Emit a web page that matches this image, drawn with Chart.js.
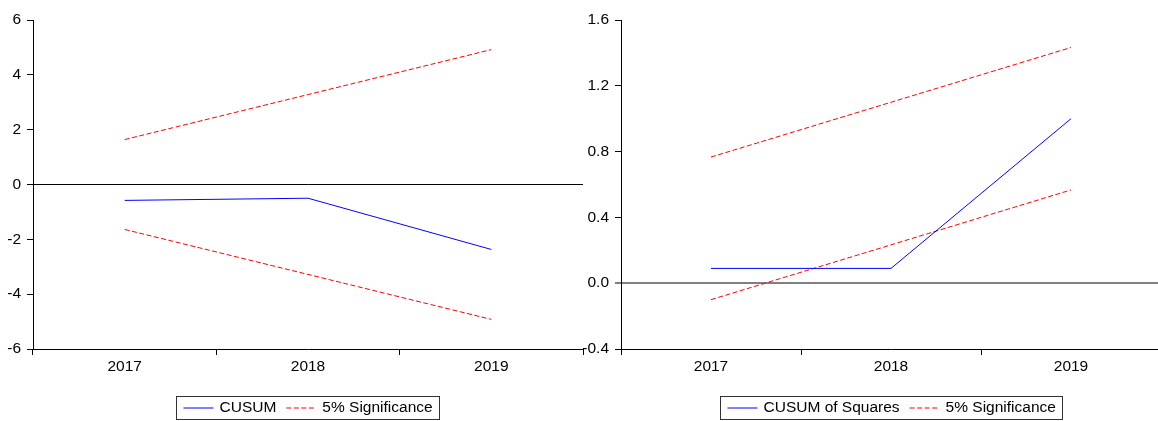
<!DOCTYPE html>
<html>
<head>
<meta charset="utf-8">
<title>CUSUM tests</title>
<script src="https://cdn.jsdelivr.net/npm/chart.js@4.4.0/dist/chart.umd.min.js"></script>
<style>
  html, body { margin: 0; padding: 0; background: #fff; overflow: hidden; }
  #wrap { position: relative; width: 1158px; height: 421px; }
  canvas { position: absolute; top: 0; }
  #cusumChart { left: 0; }
  #cusumSqChart { left: 570px; }
</style>
</head>
<body>
<div id="wrap">
  <canvas id="cusumChart" width="600" height="421"></canvas>
  <canvas id="cusumSqChart" width="600" height="421"></canvas>
</div>
<script>
const years = ["2017", "2018", "2019"];

// CUSUM test with its 5% bands
const cusum = [-0.58, -0.5, -2.37];
const cusumUpper = [1.64, 3.28, 4.92];
const cusumLower = [-1.64, -3.28, -4.92];

// CUSUM of squares test with its 5% bands
const cusumSq = [0.09, 0.09, 1.0];
const cusumSqUpper = [0.767, 1.1, 1.433];
const cusumSqLower = [-0.1, 0.233, 0.567];

const FONT = { family: '"Liberation Sans", Arial, sans-serif', size: 15.5 };

// legend in a framed box under the plot, one entry per label
const boxLegend = {
  id: "boxLegend",
  afterDraw(chart) {
    const ctx = chart.ctx;
    const area = chart.chartArea;
    const seen = new Set();
    const items = chart.data.datasets.filter((ds) => {
      if (seen.has(ds.label)) return false;
      seen.add(ds.label);
      return true;
    });
    const sampleW = 30, gap = 6, spacing = 10, padX = 7;
    ctx.save();
    ctx.font = FONT.size + "px " + FONT.family;
    const widths = items.map((ds) => sampleW + gap + ctx.measureText(ds.label).width);
    const total = padX * 2 + widths.reduce((a, b) => a + b, 0) + spacing * (items.length - 1);
    const left = Math.round((area.left + area.right) / 2 - total / 2) + 0.5;
    const top = 396.5, h = 23, midY = 408;
    ctx.strokeStyle = "#333";
    ctx.lineWidth = 1;
    ctx.strokeRect(left, top, Math.round(total), h);
    let x = left + padX;
    items.forEach((ds, i) => {
      ctx.beginPath();
      ctx.strokeStyle = ds.borderColor;
      ctx.lineWidth = 1;
      ctx.setLineDash(ds.borderDash || []);
      ctx.moveTo(x, midY);
      ctx.lineTo(x + sampleW, midY);
      ctx.stroke();
      ctx.setLineDash([]);
      ctx.fillStyle = "#000";
      ctx.textBaseline = "middle";
      ctx.textAlign = "left";
      ctx.fillText(ds.label, x + sampleW + gap, midY);
      x += widths[i] + spacing;
    });
    ctx.restore();
  },
};

function makeChart(id, cfg) {
  const band = (data) => ({
    label: "5% Significance",
    data: data,
    borderColor: "#ff0000",
    borderWidth: 1,
    borderDash: [5, 2.5],
    pointRadius: 0,
    tension: 0,
  });
  return new Chart(document.getElementById(id), {
    type: "line",
    data: {
      labels: years,
      datasets: [
        { label: cfg.name, data: cfg.values, borderColor: "#0000ff", borderWidth: 1, pointRadius: 0, tension: 0 },
        band(cfg.upper),
        band(cfg.lower),
      ],
    },
    options: {
      responsive: false,
      animation: false,
      layout: { padding: { top: 20, right: cfg.padRight, left: 0, bottom: 0 } },
      plugins: { legend: { display: false }, tooltip: { enabled: false } },
      scales: {
        x: {
          offset: true,
          grid: { offset: true, drawOnChartArea: false, tickLength: 6, tickColor: "#000" },
          border: { color: "#000" },
          ticks: { font: FONT, color: "#000", padding: 2, maxRotation: 0 },
          afterFit: (s) => { s.height = 72; },
        },
        y: {
          min: cfg.min,
          max: cfg.max,
          ticks: {
            stepSize: cfg.step,
            font: FONT,
            color: "#000",
            padding: 6,
            callback: (v) => Number(v).toFixed(cfg.decimals),
          },
          grid: {
            // only the zero line is drawn across the plot
            color: (c) => (c.tick && Math.abs(c.tick.value) < 1e-9 ? cfg.zeroColor : "transparent"),
            lineWidth: (c) => (c.tick && Math.abs(c.tick.value) < 1e-9 ? cfg.zeroWidth : 1),
            tickLength: 6,
            tickColor: "#000",
            tickWidth: 1,
          },
          border: { color: "#000" },
          afterFit: (s) => { s.width = cfg.yWidth; },
        },
      },
    },
    plugins: [boxLegend],
  });
}

makeChart("cusumChart", {
  name: "CUSUM",
  values: cusum,
  upper: cusumUpper,
  lower: cusumLower,
  min: -6, max: 6, step: 2, decimals: 0,
  zeroColor: "#000", zeroWidth: 1,
  yWidth: 33, padRight: 17,
});

makeChart("cusumSqChart", {
  name: "CUSUM of Squares",
  values: cusumSq,
  upper: cusumSqUpper,
  lower: cusumSqLower,
  min: -0.4, max: 1.6, step: 0.4, decimals: 1,
  zeroColor: "#808080", zeroWidth: 2,
  yWidth: 51, padRight: 9,
});
</script>
</body>
</html>
